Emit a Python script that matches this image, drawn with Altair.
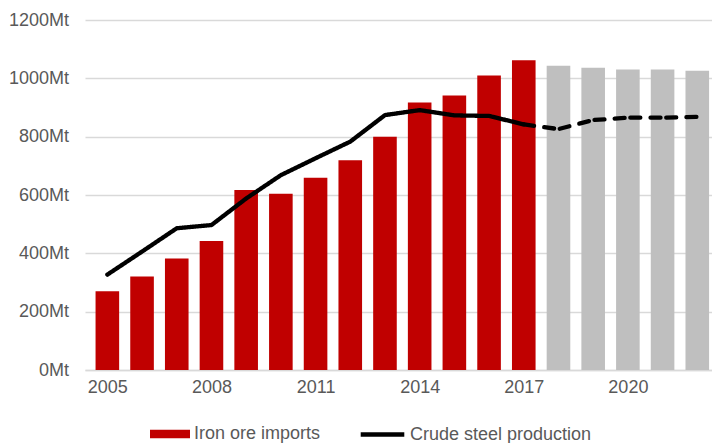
import altair as alt
import pandas as pd

years = list(range(2005, 2023))
imports = [270, 321, 382, 442, 617, 604, 659, 719, 800, 917, 941, 1010, 1062,
           1043, 1036, 1030, 1030, 1026]
steel = [327, 406, 486, 497, 588, 668, 726, 783, 874, 891, 873, 871, 842,
         826, 857, 865, 865, 868]
bar_series = ["Iron ore imports"] * 13 + ["Forecast"] * 5
tick_years = [2005, 2008, 2011, 2014, 2017, 2020]
y_ticks = [0, 200, 400, 600, 800, 1000, 1200]

FONT = "Liberation Sans"
TXT = "#595959"
GRID = "#D9D9D9"

bars_df = pd.DataFrame({"year": years, "imports": imports, "series": bar_series})

line_rows = []
for yr, v in zip(years, steel):
    if yr <= 2017:
        line_rows.append({"year": yr, "steel": v, "seg": "actual",
                          "name": "Crude steel production"})
    if yr >= 2017:
        line_rows.append({"year": yr, "steel": v, "seg": "forecast",
                          "name": "Crude steel production"})
line_df = pd.DataFrame(line_rows)

x_scale = alt.Scale(domain=[2004.5, 2022.28], nice=False, zero=False)
y_scale = alt.Scale(domain=[0, 1200], nice=False)

x_axis = alt.Axis(values=tick_years, format="d", title=None, grid=False,
                  ticks=False, domain=True, domainColor=GRID, domainWidth=1.3,
                  labelFontSize=18, labelFont=FONT, labelColor=TXT,
                  labelPadding=8, labelFlush=False, labelOverlap=False)
y_axis = alt.Axis(values=y_ticks, labelExpr="datum.value + 'Mt'", title=None,
                  domain=False, ticks=False, grid=True, gridColor=GRID,
                  gridWidth=1.3, labelFontSize=18, labelFont=FONT,
                  labelColor=TXT, labelPadding=16.5)

bars = alt.Chart(bars_df).mark_bar(width=23.6, clip=True).encode(
    x=alt.X("year:Q", scale=x_scale, axis=x_axis),
    y=alt.Y("imports:Q", scale=y_scale, axis=y_axis),
    color=alt.Color("series:N",
                    scale=alt.Scale(domain=["Iron ore imports", "Forecast"],
                                    range=["#C00000", "#BFBFBF"]),
                    legend=alt.Legend(values=["Iron ore imports"], title=None,
                                      orient="none", legendX=65, legendY=394,
                                      symbolType="M-1,-0.21H1V0.21H-1Z",
                                      symbolSize=1600, symbolStrokeWidth=0,
                                      labelFontSize=18, labelFont=FONT,
                                      labelColor=TXT, labelOffset=4,
                                      labelLimit=400, padding=0)),
)

line = alt.Chart(line_df).mark_line(strokeWidth=4.3, strokeCap="round",
                                    strokeJoin="round",
                                    strokeDashOffset=15.3).encode(
    x=alt.X("year:Q", scale=x_scale, axis=x_axis),
    y=alt.Y("steel:Q", scale=y_scale, axis=y_axis),
    detail="seg:N",
    stroke=alt.Stroke("name:N",
                      scale=alt.Scale(domain=["Crude steel production"],
                                      range=["#000000"]),
                      legend=alt.Legend(title=None, orient="none", legendX=273,
                                        legendY=390, symbolType="stroke",
                                        symbolSize=1900, symbolStrokeWidth=4.5,
                                        labelFontSize=18, labelFont=FONT,
                                        labelColor=TXT, labelOffset=3,
                                        labelLimit=400, padding=0)),
    strokeDash=alt.StrokeDash("seg:N",
                              scale=alt.Scale(domain=["actual", "forecast"],
                                              range=[[1, 0], [10, 5.7, 10, 10.2]]),
                              legend=None),
)

chart = alt.layer(bars, line).properties(
    width=627, height=350,
    autosize=alt.AutoSizeParams(type="none"),
    padding={"left": 85, "top": 20, "right": 0, "bottom": 73},
    background="white",
).configure_view(stroke=None)

chart.save("out.html", embed_options={"renderer": "svg", "actions": False})
